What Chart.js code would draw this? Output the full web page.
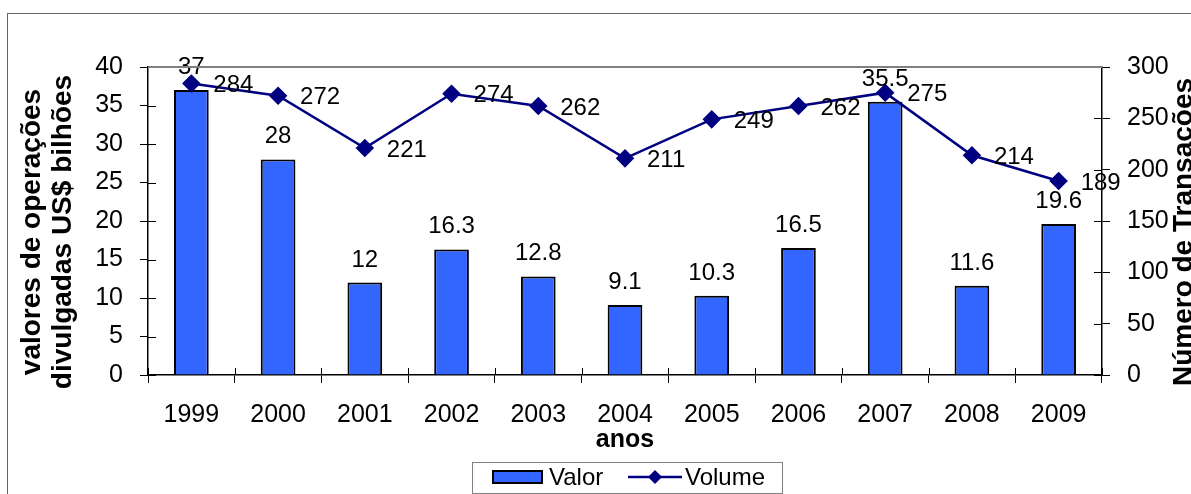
<!DOCTYPE html>
<html>
<head>
<meta charset="utf-8">
<script src="https://cdn.jsdelivr.net/npm/chart.js@4.4.1/dist/chart.umd.min.js"></script>
<style>
  html, body { margin: 0; padding: 0; background: #fff; overflow: hidden; }
  #wrap { width: 1191px; height: 494px; position: relative; }
</style>
</head>
<body>
<div id="wrap"><canvas id="chart" width="1191" height="494"></canvas></div>
<script>
// Data
const years = ['1999', '2000', '2001', '2002', '2003', '2004', '2005', '2006', '2007', '2008', '2009'];
const valor = [37, 28, 12, 16.3, 12.8, 9.1, 10.3, 16.5, 35.5, 11.6, 19.6];
const volume = [284, 272, 221, 274, 262, 211, 249, 262, 275, 214, 189];

const leftTitle = ['valores de operações', 'divulgadas US$ bilhões'];
const rightTitle = 'Número de Transações';
const xTitle = 'anos';

const FONT = '"Liberation Sans", Arial, sans-serif';
const BAR_COLOR = '#3366FF';
const LINE_COLOR = '#000080';

// Labels over bars and next to points
const valueLabels = {
  id: 'valueLabels',
  afterDatasetsDraw(chart) {
    const ctx = chart.ctx;
    ctx.save();
    ctx.fillStyle = '#000';
    ctx.font = '24px ' + FONT;
    ctx.textAlign = 'center';
    ctx.textBaseline = 'alphabetic';
    chart.getDatasetMeta(0).data.forEach((el, i) => {
      ctx.fillText(String(valor[i]), el.x, el.y - 16);
    });
    ctx.textAlign = 'left';
    ctx.textBaseline = 'middle';
    chart.getDatasetMeta(1).data.forEach((el, i) => {
      ctx.fillText(String(volume[i]), el.x + 22, el.y + 2);
    });
    ctx.restore();
  }
};

// Ticks that cross the axes, top border, titles, legend and frame
const decorations = {
  id: 'decorations',
  afterDraw(chart) {
    const ctx = chart.ctx;
    const area = chart.chartArea;
    const y = chart.scales.y, y1 = chart.scales.y1;
    ctx.save();

    // inner tick parts
    ctx.strokeStyle = '#000';
    ctx.lineWidth = 1;
    ctx.beginPath();
    for (let v = 0; v <= 40; v += 5) {
      const py = Math.round(y.getPixelForValue(v)) + 0.5;
      ctx.moveTo(area.left, py); ctx.lineTo(area.left + 8, py);
    }
    for (let v = 0; v <= 300; v += 50) {
      const py = Math.round(y1.getPixelForValue(v)) + 0.5;
      ctx.moveTo(area.right - 8, py); ctx.lineTo(area.right, py);
    }
    const step = (area.right - area.left) / years.length;
    for (let i = 0; i <= years.length; i++) {
      const px = Math.round(area.left + i * step) + 0.5;
      ctx.moveTo(px, area.bottom - 7); ctx.lineTo(px, area.bottom);
    }
    ctx.stroke();

    // top border of plot area
    ctx.strokeStyle = '#808080';
    ctx.lineWidth = 2;
    ctx.beginPath();
    ctx.moveTo(area.left, area.top);
    ctx.lineTo(area.right, area.top);
    ctx.stroke();

    // axis titles
    ctx.fillStyle = '#000';
    ctx.font = 'bold 25px ' + FONT;
    ctx.textAlign = 'center';
    ctx.textBaseline = 'alphabetic';
    ctx.fillText(xTitle, (area.left + area.right) / 2, 447);

    ctx.font = 'bold 28px ' + FONT;
    ctx.textBaseline = 'middle';
    const cy = 232;
    [32, 63].forEach((cx, i) => {
      ctx.save();
      ctx.translate(cx, cy);
      ctx.rotate(-Math.PI / 2);
      ctx.fillText(leftTitle[i], 0, 0);
      ctx.restore();
    });
    ctx.save();
    ctx.translate(1184, cy);
    ctx.rotate(-Math.PI / 2);
    ctx.fillText(rightTitle, 0, 0);
    ctx.restore();

    // legend
    ctx.strokeStyle = '#808080';
    ctx.lineWidth = 1;
    ctx.strokeRect(472.5, 462.5, 310, 31);
    ctx.fillStyle = BAR_COLOR;
    ctx.fillRect(493, 471, 49, 12);
    ctx.strokeStyle = '#000';
    ctx.lineWidth = 2;
    ctx.strokeRect(493, 471, 49, 12);
    ctx.fillStyle = '#000';
    ctx.font = '24px ' + FONT;
    ctx.textAlign = 'left';
    ctx.textBaseline = 'middle';
    ctx.fillText(chart.data.datasets[0].label, 549, 478);
    ctx.strokeStyle = LINE_COLOR;
    ctx.lineWidth = 2.5;
    ctx.beginPath();
    ctx.moveTo(628, 477); ctx.lineTo(682, 477);
    ctx.stroke();
    ctx.fillStyle = LINE_COLOR;
    ctx.beginPath();
    ctx.moveTo(655, 470); ctx.lineTo(662, 477); ctx.lineTo(655, 484); ctx.lineTo(648, 477);
    ctx.closePath();
    ctx.fill();
    ctx.fillStyle = '#000';
    ctx.fillText(chart.data.datasets[1].label, 685, 478);

    // outer frame
    ctx.strokeStyle = '#666';
    ctx.lineWidth = 1;
    ctx.strokeRect(7.5, 13.5, 1300, 600);
    ctx.restore();
  }
};

const tickFont = { family: FONT, size: 25 };

new Chart(document.getElementById('chart'), {
  data: {
    labels: years,
    datasets: [
      {
        type: 'bar',
        label: 'Valor',
        data: valor,
        yAxisID: 'y',
        backgroundColor: BAR_COLOR,
        borderColor: '#000',
        borderWidth: 2,
        categoryPercentage: 1,
        barPercentage: 0.4,
        order: 1
      },
      {
        type: 'line',
        label: 'Volume',
        data: volume,
        yAxisID: 'y1',
        borderColor: LINE_COLOR,
        backgroundColor: LINE_COLOR,
        borderWidth: 2.5,
        pointStyle: 'rectRot',
        pointRadius: 7.5,
        pointHoverRadius: 7.5,
        tension: 0,
        order: 0
      }
    ]
  },
  options: {
    responsive: false,
    animation: false,
    devicePixelRatio: 1,
    layout: { padding: { top: 67, left: 0, right: 0, bottom: 0 } },
    plugins: {
      legend: { display: false },
      tooltip: { enabled: false }
    },
    scales: {
      x: {
        offset: true,
        grid: { offset: true, drawOnChartArea: false, tickLength: 8, color: '#000' },
        border: { color: '#000', width: 1.5 },
        ticks: { font: tickFont, color: '#000', padding: 17, maxRotation: 0 },
        afterFit: s => { s.height = 119; }
      },
      y: {
        position: 'left',
        min: 0,
        max: 40,
        grid: { drawOnChartArea: false, tickLength: 8, color: '#000' },
        border: { color: '#000', width: 1.5 },
        ticks: { stepSize: 5, font: tickFont, color: '#000', padding: 17 },
        afterFit: s => { s.width = 148; }
      },
      y1: {
        position: 'right',
        min: 0,
        max: 300,
        grid: { drawOnChartArea: false, tickLength: 8, color: '#000' },
        border: { color: '#000', width: 1.5 },
        ticks: { stepSize: 50, font: tickFont, color: '#000', padding: 17 },
        afterFit: s => { s.width = 89; }
      }
    }
  },
  plugins: [valueLabels, decorations]
});
</script>
</body>
</html>
